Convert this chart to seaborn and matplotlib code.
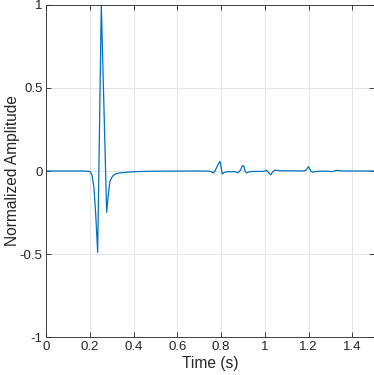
import pandas as pd
import matplotlib.pyplot as plt
import seaborn as sns

# Points (time in s, normalized amplitude)
time_s = [0.0, 0.15, 0.185, 0.201, 0.210, 0.219, 0.227, 0.236, 0.2526, 0.277,
          0.2846, 0.292, 0.300, 0.307, 0.318, 0.33, 0.368, 0.43, 0.5, 0.70,
          0.745, 0.755, 0.763, 0.772, 0.786, 0.795, 0.800, 0.805, 0.812, 0.825,
          0.85, 0.866, 0.872, 0.878, 0.888, 0.897, 0.903, 0.910, 0.916, 0.925,
          0.94, 0.99, 1.000, 1.008, 1.016, 1.026, 1.034, 1.044, 1.06, 1.07, 1.12,
          1.175, 1.185, 1.192, 1.198, 1.205, 1.212, 1.22, 1.235, 1.25,
          1.285, 1.295, 1.305, 1.318, 1.327, 1.34, 1.36, 1.5]
amplitude = [0.0, 0.0, -0.001, -0.003, -0.023, -0.10, -0.26, -0.49, 1.0, -0.248,
             -0.143, -0.063, -0.040, -0.027, -0.018, -0.013, -0.007, -0.003, -0.001, 0.0,
             -0.001, -0.004, -0.012, 0.000, 0.040, 0.058, 0.020, -0.018, -0.010, -0.005,
             -0.004, -0.005, -0.008, -0.010, 0.005, 0.032, 0.030, 0.000, -0.012, -0.006,
             -0.003, -0.002, 0.000, 0.003, -0.008, -0.023, -0.008, 0.005, 0.003, 0.001, 0.001,
             0.0, 0.002, 0.012, 0.026, 0.012, -0.004, -0.007, -0.003, -0.001,
             -0.001, -0.002, -0.004, 0.000, 0.004, 0.002, 0.0, 0.0]

x_ticks = [0, 0.2, 0.4, 0.6, 0.8, 1.0, 1.2, 1.4]
x_tick_labels = ["0", "0.2", "0.4", "0.6", "0.8", "1", "1.2", "1.4"]
y_ticks = [-1, -0.5, 0, 0.5, 1]
y_tick_labels = ["-1", "-0.5", "0", "0.5", "1"]

df = pd.DataFrame({"Time": time_s, "Amplitude": amplitude})

sns.set_style("white")
plt.rcParams["font.family"] = ["Liberation Sans", "DejaVu Sans"]
plt.rcParams["axes.unicode_minus"] = False

fig = plt.figure(figsize=(3.74, 3.75), dpi=100)
ax = fig.add_axes([0.123, 0.101, 0.878, 0.886])

sns.lineplot(data=df, x="Time", y="Amplitude", color="#0072BD",
             linewidth=0.9, ax=ax)

ax.set_xlim(0, 1.5)
ax.set_ylim(-1, 1)
ax.set_xticks(x_ticks)
ax.set_xticklabels(x_tick_labels)
ax.set_yticks(y_ticks)
ax.set_yticklabels(y_tick_labels)
ax.grid(True, color="#e6e6e6", linewidth=0.7)
ax.set_axisbelow(True)

for side in ["left", "right", "top", "bottom"]:
    ax.spines[side].set_visible(True)
    ax.spines[side].set_color("#262626")
    ax.spines[side].set_linewidth(0.6)

ax.tick_params(direction="in", length=3.5, width=0.6, color="#262626",
               labelsize=9.5, labelcolor="#262626",
               top=True, right=True, bottom=True, left=True, pad=3)
ax.tick_params(axis="y", pad=2.5)

ax.set_xlabel("Time (s)", fontsize=11.2, color="#262626", labelpad=2)
ax.set_ylabel("Normalized Amplitude", fontsize=11.2, color="#262626", labelpad=0)

fig.savefig("out.png", dpi=100)
